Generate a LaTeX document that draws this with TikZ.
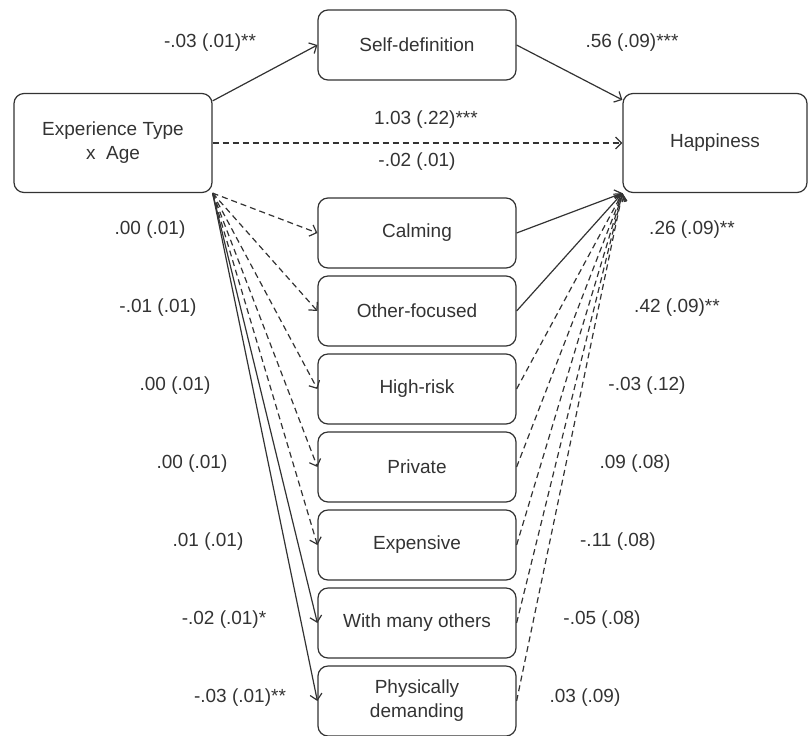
\documentclass[tikz,border=0pt]{standalone}
\usepackage{fontspec}
\setmainfont{Liberation Sans}
\usetikzlibrary{arrows.meta}

\begin{document}
\begin{tikzpicture}[x=0.5pt,y=-0.5pt,font=\fontsize{9.5}{12}\selectfont,line width=0.6pt,color=black!80,
  box/.style={draw,rounded corners=5pt,minimum width=99pt,minimum height=35pt,align=center,inner sep=2pt},
  dsh/.style={dash pattern=on 3pt off 2pt},
  >={Straight Barb[length=3pt,width=6pt]}]
\useasboundingbox (0,0) rectangle (809,735);
\node[box,minimum height=49.5pt](exp) at (113,143){Experience Type\\x\ \ Age};
\node[box,minimum width=92pt,minimum height=49.5pt](hap) at (715,143){Happiness};
\node[box](sd) at (417,45){Self-definition};
\foreach \n/\t [count=\i] in {cal/Calming,oth/Other-focused,hig/High-risk,pri/Private,exn/Expensive,wmo/With many others,phy/{Physically\\demanding}}
  \node[box](\n) at (417,{155+78*\i}){\t};
\draw[->] ([yshift=-4pt]exp.north east) -- (sd.west);
\draw[->] (sd.east) -- ([yshift=-3.5pt]hap.north west);
\draw[->,dsh] (exp.east) -- (hap.west);
\foreach \n/\s in {cal/dsh,oth/dsh,hig/dsh,pri/dsh,exn/dsh,wmo/solid,phy/solid}
  \draw[->,\s] (exp.south east) -- (\n.west);
\foreach \n/\s in {cal/solid,oth/solid,hig/dsh,pri/dsh,exn/dsh,wmo/dsh,phy/dsh}
  \draw[->,\s] (\n.east) -- (hap.south west);
\node (asd) at (210,43){-.03 (.01)**};
\node (bsd) at (632,43){.56 (.09)***};
\node (ctot) at (426,120){1.03 (.22)***};
\node (cdir) at (417,162){-.02 (.01)};
\foreach \n/\xa/\ta/\xb/\tb [count=\i] in {cal/150/.00 (.01)/692/.26 (.09)**,oth/158/-.01 (.01)/677/.42 (.09)**,hig/175/.00 (.01)/647/-.03 (.12),pri/192/.00 (.01)/635/.09 (.08),exn/208/.01 (.01)/618/-.11 (.08),wmo/224/-.02 (.01)*/602/-.05 (.08),phy/240/-.03 (.01)**/585/.03 (.09)}{
  \node (a\n) at (\xa,{152+78*\i}){\ta};
  \node (b\n) at (\xb,{152+78*\i}){\tb};
}
\end{tikzpicture}
\end{document}
